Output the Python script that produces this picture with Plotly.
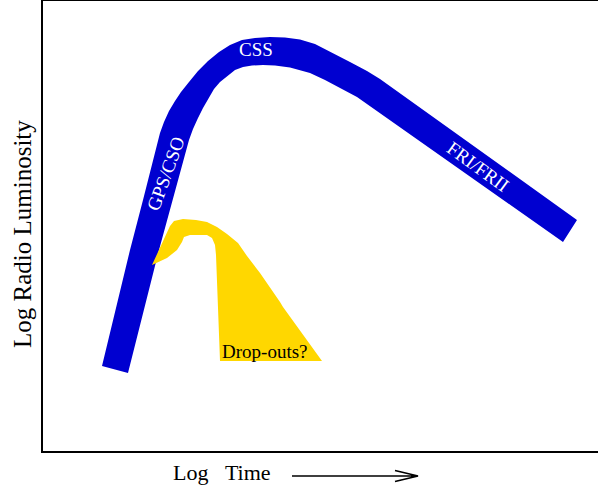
import plotly.graph_objects as go

# ---- data (axis units: log time 0..555, log radio luminosity 0..450) ----
band_upper_t = [59, 87, 100, 114, 117, 121, 126, 132, 138, 146, 155, 165, 176, 187, 199, 212, 227,
                242, 257, 272, 290, 307, 324, 337, 534]
band_upper_l = [85, 201, 251, 308, 318, 329, 340, 350, 359, 369, 380, 390, 399, 406, 411, 413, 414,
                413.5, 411.5, 407, 398, 389, 380, 372, 231]
band_lower_t = [520, 314, 297, 282, 267, 257, 247, 232, 220, 209, 200, 192, 184, 177, 171, 165,
                160, 155, 150, 146, 143, 116, 85]
band_lower_l = [209, 354, 363, 371, 378, 381, 383.5, 385.5, 386, 385.5, 384, 381, 375, 369, 362, 352,
                343, 333, 322, 311, 300, 201, 78]

drop_t = [109, 113, 117, 122, 127, 131, 140, 153, 164, 174, 184, 195, 204, 217, 227, 234, 237, 240,
          279, 177, 175, 174, 173, 172, 169, 164, 147, 141, 139, 134, 124, 109]
drop_l = [186, 195, 203, 215, 225, 230, 232, 231, 229, 224, 217, 208, 195, 178, 164, 153, 149, 144,
          90, 90, 144, 178, 196, 206, 213, 216, 216, 214, 209, 201, 193, 186]

label_text = ["CSS", "GPS/CSO", "FRI/FRII", "Drop-outs?"]
label_t = [213, 122, 435, 221]
label_l = [402, 277, 285, 100]
label_angle = [0, -70, 36, 0]
label_color = ["white", "white", "white", "black"]

T_RANGE = [0, 555]
L_RANGE = [0, 450]

BLUE = "#0000D0"
YELLOW = "#FFD700"
FONT = "Liberation Serif"

W, H = 598, 488
ML, MR, MT, MB = 43, 0, 1, 37


def px_to_paper(px, py):
    return (px - ML) / (W - ML - MR), (H - MB - py) / (H - MT - MB)


fig = go.Figure()

fig.add_trace(go.Scatter(
    x=band_upper_t + band_lower_t, y=band_upper_l + band_lower_l,
    fill="toself", fillcolor=BLUE, mode="lines", line=dict(width=0, color=BLUE),
    hoverinfo="skip", showlegend=False))

fig.add_trace(go.Scatter(
    x=drop_t, y=drop_l,
    fill="toself", fillcolor=YELLOW, mode="lines", line=dict(width=0, color=YELLOW),
    hoverinfo="skip", showlegend=False))

for txt, t, l, a, c in zip(label_text, label_t, label_l, label_angle, label_color):
    fig.add_annotation(x=t, y=l, xref="x", yref="y", text=txt, showarrow=False,
                       textangle=a, font=dict(family=FONT, size=19, color=c),
                       xanchor="center", yanchor="middle")

# axis titles
yx, yy = px_to_paper(22, 234)
fig.add_annotation(x=yx, y=yy, xref="paper", yref="paper", text="Log Radio Luminosity",
                   showarrow=False, textangle=-90, font=dict(family=FONT, size=25, color="black"),
                   xanchor="center", yanchor="middle")
tx, ty = px_to_paper(222, 472)
fig.add_annotation(x=tx, y=ty, xref="paper", yref="paper",
                   text="Log\u00a0\u00a0\u00a0Time",
                   showarrow=False, font=dict(family=FONT, size=22, color="black"),
                   xanchor="center", yanchor="middle")

# time arrow
a0 = px_to_paper(292, 476)
a1 = px_to_paper(418, 476)
c0 = px_to_paper(395, 470.5)
c1 = px_to_paper(395, 481.5)
fig.add_shape(type="path", xref="paper", yref="paper",
              path=f"M{a0[0]},{a0[1]} L{a1[0]},{a1[1]} M{c0[0]},{c0[1]} L{a1[0]},{a1[1]} L{c1[0]},{c1[1]}",
              line=dict(color="black", width=1.6))

fig.update_layout(
    width=W, height=H,
    margin=dict(l=ML, r=MR, t=MT, b=MB),
    paper_bgcolor="white", plot_bgcolor="white",
    showlegend=False,
    xaxis=dict(range=T_RANGE, showgrid=False, zeroline=False, showticklabels=False, ticks="",
               showline=True, linecolor="black", linewidth=2, mirror=True, fixedrange=True),
    yaxis=dict(range=L_RANGE, showgrid=False, zeroline=False, showticklabels=False, ticks="",
               showline=True, linecolor="black", linewidth=2, mirror=False, fixedrange=True),
)

fig.write_html("out.html", config={"displayModeBar": False},
               post_script="document.body.style.margin='0';document.body.style.overflow='hidden';")
